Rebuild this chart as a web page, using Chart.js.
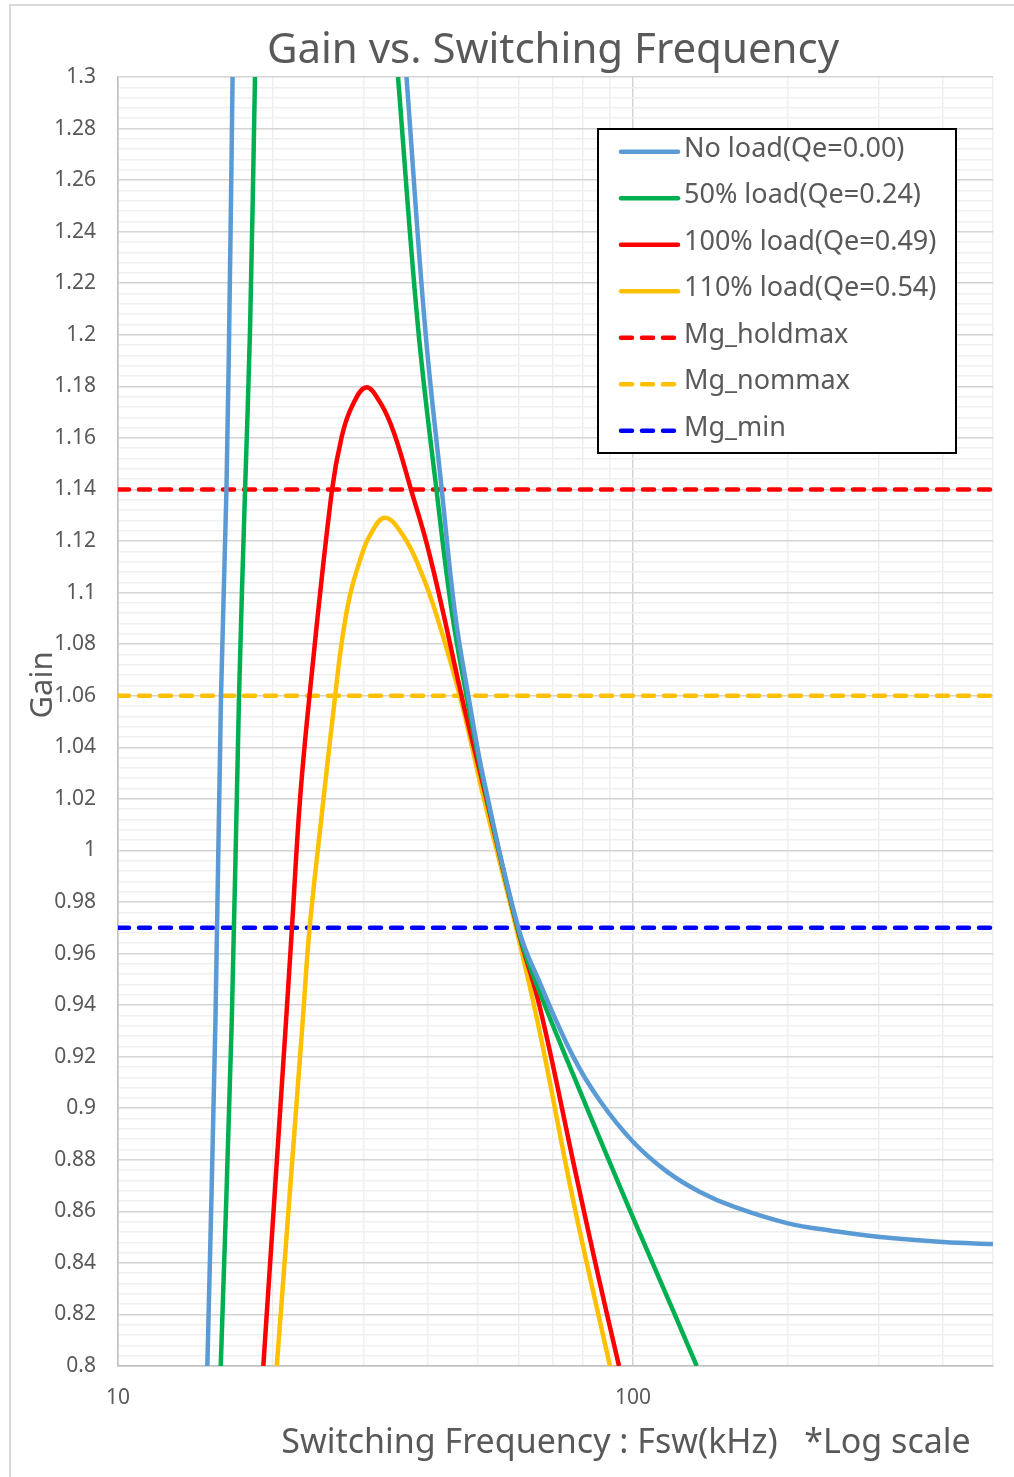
<!DOCTYPE html>
<html lang="en">
<head>
    <meta charset="UTF-8">
    <title>Gain vs. Switching Frequency</title>
    <script src="https://cdn.jsdelivr.net/npm/chart.js"></script>
    <style>
        html, body {
            margin: 0;
            padding: 0;
            background-color: #ffffff;
        }

        body {
            position: relative;
            width: 1014px;
            height: 1477px;
            overflow: hidden;
        }

        .frame {
            position: absolute;
            left: 9px;
            top: 4px;
            width: 1030px;
            height: 1490px;
            border: 2px solid #d9d9d9;
        }

        #gainChart {
            position: absolute;
            left: 0;
            top: 0;
        }
    </style>
</head>
<body>
    <div class="frame"></div>
    <canvas id="gainChart" width="1014" height="1477"></canvas>

    <script>
        var titleText = "Gain vs. Switching Frequency";
        var xTitleText = "Switching Frequency : Fsw(kHz)   *Log scale";
        var yTitleText = "Gain";

        // axis ranges and ticks
        var freqMin = 10, freqMax = 500;
        var freqTicks = [10, 20, 30, 40, 50, 60, 70, 80, 90, 100, 200, 300, 400, 500];
        var freqLabeled = [10, 100];
        var gainMin = 0.8, gainMax = 1.3;
        var gainMinorStep = 0.004, gainMajorStep = 0.02;

        // No load (Qe=0.00), two branches either side of the pole
        var noLoadLowFreq = [14.91, 15.46, 15.85, 16.24, 16.54, 16.69];
        var noLoadLowGain = [0.8, 0.934, 1.06, 1.14, 1.2395, 1.3];
        var noLoadHighFreq = [36.32, 39.46, 42.52, 45.12, 47.94, 51.36, 60.07, 65.99, 76.57, 86.3, 100.1, 116.4, 134.9, 156.4, 200, 244.5, 302, 400, 500];
        var noLoadHighGain = [1.3, 1.203, 1.14, 1.092, 1.0595, 1.027, 0.969, 0.9484, 0.9199, 0.9028, 0.8869, 0.8754, 0.8675, 0.8619, 0.8553, 0.8524, 0.85, 0.8481, 0.8473];

        // 50% load (Qe=0.24)
        var halfLoadLowFreq = [15.83, 16.63, 17.18, 17.65, 18.05, 18.45];
        var halfLoadLowGain = [0.8, 0.934, 1.06, 1.14, 1.203, 1.3];
        var halfLoadHighFreq = [34.97, 38.24, 41.58, 44.52, 47.55, 51.20, 60.34, 65.99, 76.57, 88.90, 100.1, 119.75, 132.95];
        var halfLoadHighGain = [1.3, 1.203, 1.139, 1.092, 1.0596, 1.027, 0.9665, 0.9447, 0.9129, 0.8818, 0.8574, 0.8213, 0.8];

        // 100% load (Qe=0.49)
        var fullLoadFreq = [19.15, 21.20, 21.75, 22.57, 23.60, 26.00, 27.19, 28.43, 30.31, 32.41, 34.35, 37.18, 39.76, 42.82, 46.50, 51.36, 59.81, 65.99, 77.15, 85.52, 93.93];
        var fullLoadGain = [0.8, 0.934, 0.969, 1.020, 1.062, 1.139, 1.1605, 1.172, 1.1796, 1.1732, 1.1619, 1.139, 1.119, 1.092, 1.0596, 1.024, 0.969, 0.9389, 0.876, 0.8353, 0.8];

        // 110% load (Qe=0.54)
        var overLoadFreq = [20.34, 22.84, 23.53, 24.68, 26.39, 27.23, 28.22, 29.51, 30.86, 32.99, 35.81, 38.59, 41.58, 46.15, 51.20, 55.18, 59.45, 65.99, 76.57, 90.22];
        var overLoadGain = [0.8, 0.934, 0.969, 1.008, 1.0596, 1.0816, 1.0991, 1.1126, 1.1223, 1.129, 1.122, 1.109, 1.091, 1.0596, 1.021, 0.995, 0.969, 0.929, 0.864, 0.8];

        // gain limits
        var mgHoldmax = 1.14;
        var mgNommax = 1.06;
        var mgMin = 0.97;

        function toPoints(freqs, gains) {
            var pts = [];
            for (var i = 0; i < freqs.length; i++) {
                pts.push({ x: freqs[i], y: gains[i] });
            }
            return pts;
        }

        // join two branches with a null point so the line breaks
        function twoBranches(lowF, lowG, highF, highG) {
            var gapX = (lowF[lowF.length - 1] + highF[0]) / 2;
            return toPoints(lowF, lowG).concat([{ x: gapX, y: null }], toPoints(highF, highG));
        }

        function flatLine(value) {
            return [{ x: freqMin, y: value }, { x: freqMax, y: value }];
        }

        function curve(label, color, data) {
            return {
                label: label,
                data: data,
                borderColor: color,
                backgroundColor: color,
                borderWidth: 4.5,
                pointRadius: 0,
                tension: 0.4,
                spanGaps: false,
                clip: 0
            };
        }

        function limitLine(label, color, value) {
            return {
                label: label,
                data: flatLine(value),
                borderColor: color,
                backgroundColor: color,
                borderWidth: 4.5,
                borderDash: [11, 10],
                borderCapStyle: 'round',
                pointRadius: 0,
                clip: 0
            };
        }

        function isMajorGain(v) {
            var r = v / gainMajorStep;
            return Math.abs(r - Math.round(r)) < 1e-6;
        }

        // titles and the boxed legend inside the plot
        var chartText = {
            id: 'chartText',
            afterDraw: function (chart) {
                var c = chart.ctx;
                c.save();
                c.fillStyle = '#595959';
                c.textBaseline = 'alphabetic';

                c.font = '42px "Noto Sans"';
                c.textAlign = 'center';
                c.fillText(titleText, 553, 63);

                c.font = '34px "Noto Sans"';
                c.fillText(xTitleText, 626, 1453);

                c.save();
                c.translate(52, 685);
                c.rotate(-Math.PI / 2);
                c.font = '31px "Noto Sans"';
                c.fillText(yTitleText, 0, 0);
                c.restore();

                // legend box
                var bx = 598, by = 129, bw = 358, bh = 324;
                c.fillStyle = '#ffffff';
                c.fillRect(bx, by, bw, bh);
                c.strokeStyle = '#000000';
                c.lineWidth = 2;
                c.strokeRect(bx, by, bw, bh);

                c.font = '27px "Noto Sans"';
                c.textAlign = 'left';
                chart.data.datasets.forEach(function (ds, i) {
                    var y = 151.7 + i * 46.5;
                    c.beginPath();
                    c.strokeStyle = ds.borderColor;
                    c.lineWidth = 4.5;
                    c.lineCap = 'round';
                    if (ds.borderDash) {
                        c.setLineDash(ds.borderDash);
                        c.moveTo(621, y);
                        c.lineTo(676, y);
                    } else {
                        c.setLineDash([]);
                        c.moveTo(621, y);
                        c.lineTo(678, y);
                    }
                    c.stroke();
                    c.setLineDash([]);
                    c.fillStyle = '#595959';
                    c.fillText(ds.label, 684, y + 5);
                });
                c.restore();
            }
        };

        var ctx = document.getElementById('gainChart').getContext('2d');
        var gainChart = new Chart(ctx, {
            type: 'line',
            data: {
                datasets: [
                    curve('No load(Qe=0.00)', '#5B9BD5', twoBranches(noLoadLowFreq, noLoadLowGain, noLoadHighFreq, noLoadHighGain)),
                    curve('50% load(Qe=0.24)', '#00B050', twoBranches(halfLoadLowFreq, halfLoadLowGain, halfLoadHighFreq, halfLoadHighGain)),
                    curve('100% load(Qe=0.49)', '#FF0000', toPoints(fullLoadFreq, fullLoadGain)),
                    curve('110% load(Qe=0.54)', '#FFC000', toPoints(overLoadFreq, overLoadGain)),
                    limitLine('Mg_holdmax', '#FF0000', mgHoldmax),
                    limitLine('Mg_nommax', '#FFC000', mgNommax),
                    limitLine('Mg_min', '#0000FF', mgMin)
                ]
            },
            options: {
                responsive: false,
                animation: false,
                events: [],
                layout: {
                    padding: { left: 0, top: 77, right: 21, bottom: 0 }
                },
                plugins: {
                    legend: { display: false },
                    title: { display: false },
                    tooltip: { enabled: false }
                },
                scales: {
                    x: {
                        type: 'logarithmic',
                        min: freqMin,
                        max: freqMax,
                        afterBuildTicks: function (scale) {
                            scale.ticks = freqTicks.map(function (v) { return { value: v }; });
                        },
                        afterFit: function (scale) {
                            scale.height = 111;
                        },
                        ticks: {
                            autoSkip: false,
                            maxRotation: 0,
                            padding: 19,
                            color: '#595959',
                            font: { family: 'Noto Sans', size: 21 },
                            callback: function (value) {
                                return freqLabeled.indexOf(value) >= 0 ? String(value) : '';
                            }
                        },
                        grid: {
                            drawTicks: false,
                            lineWidth: 1.5,
                            color: function (c) {
                                return (c.tick && freqLabeled.indexOf(c.tick.value) >= 0) ? '#d4d4d4' : '#efefef';
                            }
                        },
                        border: { display: true, color: '#bfbfbf', width: 1.5 }
                    },
                    y: {
                        type: 'linear',
                        min: gainMin,
                        max: gainMax,
                        afterBuildTicks: function (scale) {
                            var ticks = [];
                            var n = Math.round((gainMax - gainMin) / gainMinorStep);
                            for (var i = 0; i <= n; i++) {
                                ticks.push({ value: Math.round((gainMin + i * gainMinorStep) * 1000) / 1000 });
                            }
                            scale.ticks = ticks;
                        },
                        afterFit: function (scale) {
                            scale.width = 118;
                        },
                        ticks: {
                            autoSkip: false,
                            padding: 22,
                            color: '#595959',
                            font: { family: 'Noto Sans', size: 21 },
                            callback: function (value) {
                                return isMajorGain(value) ? String(+value.toFixed(2)) : '';
                            }
                        },
                        grid: {
                            drawTicks: false,
                            lineWidth: 1.5,
                            color: function (c) {
                                return (c.tick && isMajorGain(c.tick.value)) ? '#d4d4d4' : '#efefef';
                            }
                        },
                        border: { display: true, color: '#bfbfbf', width: 1.5 }
                    }
                }
            },
            plugins: [chartText]
        });
    </script>
</body>
</html>
